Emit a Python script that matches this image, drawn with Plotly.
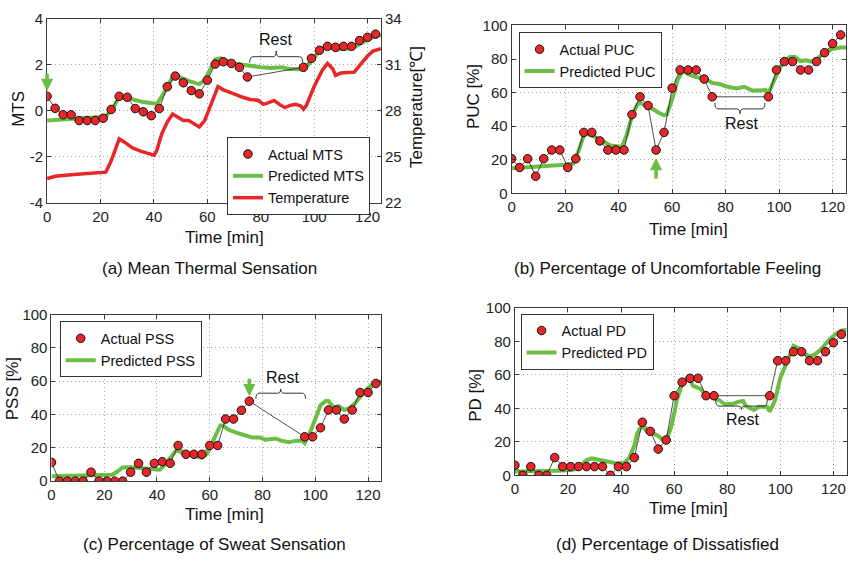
import plotly.graph_objects as go

# ---------------- data ----------------
t_act = [0, 3, 6, 9, 12, 15, 18, 21, 24, 27, 30, 33, 36, 39, 42, 45, 48, 51, 54, 57,
         60, 63, 66, 69, 72, 75, 96, 99, 102, 105, 108, 111, 114, 117, 120, 123]

mts_act = [0.63, 0.11, -0.17, -0.17, -0.42, -0.42, -0.42, -0.32, 0.06, 0.63, 0.59, 0.10,
           -0.04, -0.21, 0.10, 1.05, 1.51, 1.22, 0.88, 0.74, 1.33, 2.03, 2.13, 2.06, 1.89,
           1.47, 1.89, 2.28, 2.63, 2.80, 2.76, 2.80, 2.80, 3.05, 3.19, 3.33]
puc_act = [20.6, 15.4, 20.6, 10.2, 20.6, 25.8, 25.8, 15.4, 20.6, 36.3, 36.3, 31.2, 25.8,
           25.8, 25.8, 46.9, 57.5, 52.3, 25.8, 36.3, 62.7, 73.5, 73.5, 73.5, 68.1, 57.5,
           57.5, 73.5, 78.5, 78.5, 73.5, 73.5, 78.5, 83.8, 89.2, 94.4]
pss_act = [11.3, 0, 0, 0, 0, 5.4, 0, 0, 0, 0, 5.4, 10.7, 5.4, 10.7, 11.7, 10.7, 21.4,
           16.1, 16.1, 16.1, 21.4, 21.4, 37.3, 37.3, 42.5, 48.0, 26.6, 26.6, 32.0, 42.7,
           42.7, 37.3, 42.7, 53.2, 53.2, 58.6]
pd_act = [6.0, 0, 5.2, 0, 0, 10.6, 5.2, 5.2, 5.2, 5.2, 5.2, 5.2, 0, 5.2, 5.2, 10.6, 31.7,
          26.3, 15.7, 21.1, 47.6, 55.7, 58.0, 58.0, 47.6, 47.6, 47.6, 68.5, 68.5, 73.9,
          73.9, 68.5, 68.5, 73.9, 79.3, 84.3]

t_mts_pred = [0, 5, 10, 15, 20, 22, 25, 27, 30, 33, 36, 40, 41, 43, 45, 47, 48, 50, 53, 56,
              57, 59, 61, 63, 65, 67, 70, 73, 76, 80, 84, 88, 90, 94, 96, 98, 100, 102, 104,
              106, 108, 111, 114, 117, 120, 123, 125]
mts_pred = [-0.42, -0.39, -0.35, -0.32, -0.29, -0.25, 0.20, 0.60, 0.56, 0.46, 0.38, 0.32,
            0.28, 0.63, 1.05, 1.47, 1.54, 1.44, 1.30, 1.19, 1.16, 1.33, 1.75, 2.24, 2.28,
            2.17, 2.06, 2.00, 1.94, 1.89, 1.86, 1.89, 1.83, 1.80, 1.80, 2.03, 2.31, 2.59,
            2.77, 2.76, 2.66, 2.66, 2.70, 2.90, 3.08, 3.26, 3.29]

t_temp = [0, 3, 10, 15, 20, 22, 24, 26, 27, 29, 32, 35, 38, 40, 41, 43, 45, 47, 49, 51, 53,
          56, 57, 59, 61, 63, 64, 66, 68, 70, 73, 76, 79, 81, 83, 85, 87, 89, 91, 93, 95, 96,
          97, 100, 103, 105, 107, 108, 110, 113, 115, 118, 120, 122, 125]
temp_c = [23.59, 23.74, 23.86, 23.91, 23.95, 24.01, 24.75, 25.80, 26.17, 25.96, 25.59,
          25.38, 25.21, 25.11, 25.38, 26.53, 27.27, 27.79, 27.58, 27.37, 27.37, 27.06, 26.95,
          27.37, 28.32, 29.26, 29.58, 29.37, 29.26, 29.11, 28.90, 28.74, 28.69, 28.42, 28.53,
          28.68, 28.42, 28.21, 28.36, 28.42, 28.32, 28.11, 28.32, 29.58, 30.63, 31.09, 30.73,
          30.31, 30.46, 30.48, 30.52, 31.15, 31.57, 31.89, 32.05]

t_puc_pred = [0, 5, 10, 15, 20, 23, 25, 27, 28, 31, 34, 37, 40, 41, 43, 45, 47, 48, 50, 52,
              55, 57, 58, 60, 62, 64, 66, 69, 72, 75, 78, 80, 84, 87, 90, 93, 95, 96, 98, 100,
              102, 104, 106, 108, 110, 112, 114, 116, 118, 120, 123, 125]
puc_pred = [15.0, 15.4, 16.0, 16.2, 17.0, 17.7, 25.0, 34.6, 35.6, 33.7, 30.8, 28.5, 27.9,
            27.0, 34.6, 46.0, 52.9, 53.8, 52.5, 51.0, 48.0, 46.5, 47.0, 55.8, 67.3, 73.0,
            71.0, 69.2, 68.3, 65.8, 65.0, 63.8, 62.5, 63.5, 61.2, 61.5, 61.5, 59.6, 67.3,
            74.0, 78.8, 81.2, 81.2, 78.8, 79.2, 78.5, 79.8, 82.7, 84.6, 86.2, 86.9, 86.9]

t_pss_pred = [0, 5, 10, 15, 20, 23, 25, 27, 30, 33, 36, 39, 41, 43, 45, 47, 48, 50, 53, 56,
              57, 59, 61, 63, 64, 65, 67, 70, 73, 76, 79, 81, 85, 87, 90, 93, 95, 96, 98,
              100, 102, 104, 105, 107, 109, 111, 113, 115, 117, 119, 121, 123, 125]
pss_pred = [2.9, 3.1, 3.3, 3.3, 3.5, 3.9, 5.8, 8.2, 8.3, 7.8, 7.2, 6.8, 6.8, 9.7, 13.6,
            18.0, 18.4, 16.5, 15.5, 14.6, 14.0, 16.5, 23.3, 30.0, 33.4, 33.4, 31.0, 29.1,
            27.6, 26.2, 26.2, 24.9, 25.6, 24.3, 23.3, 24.3, 24.3, 22.9, 29.1, 37.9, 45.6,
            48.2, 48.0, 44.3, 45.0, 42.7, 43.7, 46.6, 50.5, 54.4, 57.3, 59.2, 59.8]

t_pd_pred = [0, 5, 10, 15, 20, 23, 25, 27, 29, 32, 35, 38, 41, 43, 45, 46, 47, 48, 50, 52,
             54, 56, 57, 59, 61, 63, 65, 66, 67, 70, 72, 75, 77, 79, 82, 84, 86, 87, 90, 92,
             95, 96, 98, 100, 102, 104, 105, 107, 109, 111, 113, 115, 117, 119, 121, 123, 125]
pd_pred = [2.3, 2.3, 2.3, 2.7, 3.1, 3.7, 6.2, 9.1, 10.1, 9.1, 8.1, 7.2, 7.2, 10.1, 17.8,
           24.6, 27.9, 29.4, 25.9, 25.1, 23.6, 20.7, 20.7, 29.4, 44.9, 54.5, 58.4, 58.0,
           53.6, 51.6, 47.8, 45.8, 44.9, 42.6, 42.6, 43.9, 44.5, 41.4, 39.1, 41.0, 41.0,
           38.1, 44.9, 58.4, 66.2, 72.9, 77.4, 75.8, 72.9, 71.0, 72.3, 74.9, 78.7, 82.0,
           84.5, 86.5, 87.0]

x_ticks = [0, 20, 40, 60, 80, 100, 120]
mts_ticks = [-4, -2, 0, 2, 4]
temp_ticks = [22, 25, 28, 31, 34]
pct_ticks = [0, 20, 40, 60, 80, 100]

# ---------------- styling ----------------
W, H = 848, 568
GREEN = "#6cbd45"
RED = "#e8262a"
FONT = "Liberation Sans, Arial, sans-serif"
AX = "#3a3a3a"
GRID = "#a8a8a8"
GDASH = "1px,3px"


def px(x):
    return x / W


def py(y):
    return 1 - y / H


fig = go.Figure()

panels = [
    ("x", "y", mts_act, t_mts_pred, mts_pred, "legend", "MTS"),
    ("x2", "y3", puc_act, t_puc_pred, puc_pred, "legend2", "PUC"),
    ("x3", "y4", pss_act, t_pss_pred, pss_pred, "legend3", "PSS"),
    ("x4", "y5", pd_act, t_pd_pred, pd_pred, "legend4", "PD"),
]

for xa, ya, act, tp, vp, lg, lab in panels:
    fig.add_trace(go.Scatter(x=tp, y=vp, mode="lines", xaxis=xa, yaxis=ya,
                             line=dict(color=GREEN, width=4), showlegend=False,
                             hoverinfo="skip"))
    fig.add_trace(go.Scatter(x=t_act, y=act, mode="lines", xaxis=xa, yaxis=ya,
                             line=dict(color="#222222", width=0.8), showlegend=False,
                             hoverinfo="skip"))
    fig.add_trace(go.Scatter(x=t_act, y=act, mode="markers", xaxis=xa, yaxis=ya,
                             marker=dict(color=RED, size=8.5, line=dict(color="#111", width=1)),
                             name="Actual " + lab, legend=lg))
    fig.add_trace(go.Scatter(x=[None], y=[None], mode="lines", xaxis=xa, yaxis=ya,
                             line=dict(color=GREEN, width=4),
                             name="Predicted " + lab, legend=lg))

fig.add_trace(go.Scatter(x=t_temp, y=temp_c, mode="lines", xaxis="x", yaxis="y2",
                         line=dict(color=RED, width=3.5), name="Temperature",
                         legend="legend"))

# ---------------- axes ----------------
common_x = dict(range=[0, 125], tickvals=x_ticks, showgrid=True, gridcolor=GRID,
                griddash=GDASH, gridwidth=1, zeroline=False, showline=True, linecolor=AX,
                linewidth=1, mirror="ticks", ticks="inside", ticklen=4, tickcolor=AX,
                tickfont=dict(family=FONT, size=15, color="#222"))
common_y = dict(showgrid=True, gridcolor=GRID, griddash=GDASH, gridwidth=1,
                zeroline=False, showline=True, linecolor=AX, linewidth=1, mirror="ticks",
                ticks="inside", ticklen=4, tickcolor=AX,
                tickfont=dict(family=FONT, size=15, color="#222"))

dom_a = ([px(43.3), px(378.7)], [py(200), py(10)])
dom_b = ([px(510), px(846)], [py(190), py(17)])
dom_c = ([px(47.7), px(379)], [py(486.7), py(315)])
dom_d = ([px(513.3), px(846.7)], [py(480.7), py(308.3)])

fig.update_layout(
    xaxis=dict(common_x, domain=dom_a[0], anchor="y"),
    yaxis=dict(common_y, domain=dom_a[1], anchor="x", range=[-4, 4], tickvals=mts_ticks,
               ticktext=[str(v) for v in mts_ticks], mirror=True),
    yaxis2=dict(range=[22, 34], tickvals=temp_ticks, overlaying="y", side="right",
                anchor="x", showgrid=False, zeroline=False, showline=True, linecolor=AX,
                ticks="inside", ticklen=4, tickcolor=AX,
                tickfont=dict(family=FONT, size=15, color="#222")),
    xaxis2=dict(common_x, domain=dom_b[0], anchor="y3"),
    yaxis3=dict(common_y, domain=dom_b[1], anchor="x2", range=[0, 100], tickvals=pct_ticks),
    xaxis3=dict(common_x, domain=dom_c[0], anchor="y4"),
    yaxis4=dict(common_y, domain=dom_c[1], anchor="x3", range=[0, 100], tickvals=pct_ticks),
    xaxis4=dict(common_x, domain=dom_d[0], anchor="y5"),
    yaxis5=dict(common_y, domain=dom_d[1], anchor="x4", range=[0, 100], tickvals=pct_ticks),
)

leg_common = dict(bgcolor="white", bordercolor="#333", borderwidth=1,
                  font=dict(family=FONT, size=14.5, color="#111"), xanchor="left",
                  yanchor="top", tracegroupgap=0, itemwidth=30)
fig.update_layout(
    legend=dict(leg_common, x=px(224), y=py(132)),
    legend2=dict(leg_common, x=px(517), y=py(24)),
    legend3=dict(leg_common, x=px(56), y=py(322)),
    legend4=dict(leg_common, x=px(519), y=py(314)),
)

# ---------------- annotations (titles, captions, Rest, arrows) ----------------
ann = []


def text(x, y, s, size=17, angle=0):
    ann.append(dict(x=px(x), y=py(y), xref="paper", yref="paper", text=s, showarrow=False,
                    textangle=angle, font=dict(family=FONT, size=size, color="#111"),
                    xanchor="center", yanchor="middle"))


text(222, 236, "Time [min]")
text(688, 227, "Time [min]")
text(222, 521, "Time [min]")
text(688, 515, "Time [min]")
text(15, 103, "MTS", angle=-90)
text(415, 101, "Temperature[℃]", angle=-90)
text(472, 90, "PUC [%]", angle=-90)
text(8, 391, "PSS [%]", angle=-90)
text(473, 398, "PD [%]", angle=-90)
text(206, 267, "(a) Mean Thermal Sensation", size=17)
text(667, 267, "(b) Percentage of Uncomfortable Feeling", size=17)
text(211, 552, "(c) Percentage of Sweat Sensation", size=17)
text(667, 552, "(d) Percentage of Dissatisfied", size=17)


def rest(xr, yr, x, y):
    ann.append(dict(x=x, y=y, xref=xr, yref=yr, text="Rest", showarrow=False,
                    font=dict(family=FONT, size=16, color="#111")))


rest("x", "y", 85.7, 3.1)
rest("x2", "y3", 86, 41.5)
rest("x3", "y4", 87.6, 62)
rest("x4", "y5", 85.6, 33.6)


def arrow(xr, yr, x, y, ay):
    ann.append(dict(x=x, y=y, xref=xr, yref=yr, ax=0, ay=ay, text="", showarrow=True,
                    arrowhead=2, arrowsize=0.7, arrowwidth=3.5, arrowcolor=GREEN,
                    standoff=0))


arrow("x", "y", 0, 0.86, -19)
arrow("x2", "y3", 54, 21.0, 22)
arrow("x3", "y4", 75, 51.0, -19)

fig.update_layout(annotations=ann)


# curly braces for "Rest"
def brace(xr, yr, x0, x1, y_end, y_h, y_tip, kx):
    xc = (x0 + x1) / 2
    path = (f"M {x0},{y_end} Q {x0},{y_h} {x0 + kx},{y_h} L {xc - kx},{y_h} "
            f"Q {xc},{y_h} {xc},{y_tip} Q {xc},{y_h} {xc + kx},{y_h} "
            f"L {x1 - kx},{y_h} Q {x1},{y_h} {x1},{y_end}")
    return dict(type="path", xref=xr, yref=yr, path=path,
                line=dict(color="#333", width=1))


shapes = [
    brace("x", "y", 75.9, 95.7, 2.1, 2.35, 2.6, 1.2),
    brace("x2", "y3", 76, 94.7, 53.8, 50.3, 47.4, 1.2),
    brace("x3", "y4", 77.5, 96.3, 49.5, 52.8, 55.3, 1.2),
    brace("x4", "y5", 75.6, 95.1, 45.8, 41.4, 39.3, 1.2),
]
fig.update_layout(shapes=shapes)

fig.update_layout(width=W, height=H, margin=dict(l=0, r=0, t=0, b=0),
                  paper_bgcolor="white", plot_bgcolor="white",
                  font=dict(family=FONT, color="#111"))

fig.write_html("out.html")
